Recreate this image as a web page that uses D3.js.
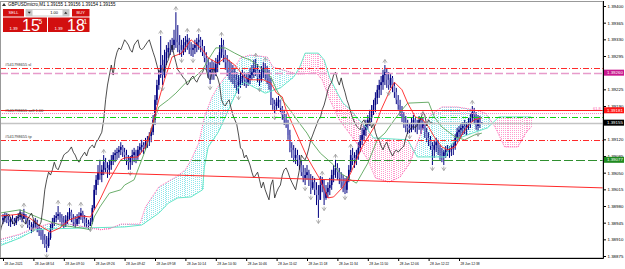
<!DOCTYPE html>
<html>
<head>
<meta charset="utf-8">
<script src="https://cdn.jsdelivr.net/npm/d3@7"></script>
<style>
  body { margin: 0; background: #fff; }
  svg { display: block; }
  text { font-family: "Liberation Sans", Arial, sans-serif; }
</style>
</head>
<body>
<div id="chart"></div>
<script>
// ---- data (M1 bars, bar 0 = 28 Jun 2021 08:38) ----
const startTime = new Date(2021, 5, 28, 8, 38);
const firstOpen = 1.38950;

const highs = [
  1.38963, 1.38967, 1.38965, 1.38959, 1.38957, 1.38961, 1.38955, 1.38959, 1.38965, 1.38972,
  1.38967, 1.38974, 1.38963, 1.38955, 1.38951, 1.38946, 1.38951, 1.38955, 1.38951, 1.38940,
  1.38934, 1.38930, 1.38921, 1.38917, 1.38925, 1.38942, 1.38955, 1.38961, 1.38967, 1.38980,
  1.38967, 1.38963, 1.38959, 1.38961, 1.38967, 1.38976, 1.38972, 1.38963, 1.38959, 1.38963,
  1.38967, 1.38976, 1.38970, 1.38961, 1.38955, 1.38951, 1.38955, 1.38982, 1.39024, 1.39045,
  1.39066, 1.39077, 1.39066, 1.39087, 1.39081, 1.39072, 1.39077, 1.39087, 1.39093, 1.39098,
  1.39102, 1.39106, 1.39114, 1.39108, 1.39102, 1.39098, 1.39087, 1.39085, 1.39098, 1.39102,
  1.39098, 1.39106, 1.39112, 1.39119, 1.39114, 1.39123, 1.39127, 1.39135, 1.39144, 1.39171,
  1.39213, 1.39245, 1.39266, 1.39337, 1.39297, 1.39308, 1.39318, 1.39324, 1.39329, 1.39333,
  1.39350, 1.39387, 1.39360, 1.39339, 1.39329, 1.39333, 1.39337, 1.39341, 1.39333, 1.39324,
  1.39320, 1.39329, 1.39333, 1.39341, 1.39335, 1.39329, 1.39316, 1.39303, 1.39291, 1.39282,
  1.39287, 1.39282, 1.39291, 1.39297, 1.39318, 1.39333, 1.39329, 1.39308, 1.39297, 1.39287,
  1.39282, 1.39276, 1.39270, 1.39261, 1.39255, 1.39261, 1.39266, 1.39261, 1.39257, 1.39261,
  1.39270, 1.39276, 1.39287, 1.39289, 1.39278, 1.39266, 1.39274, 1.39282, 1.39280, 1.39274,
  1.39266, 1.39249, 1.39207, 1.39203, 1.39207, 1.39211, 1.39203, 1.39190, 1.39182, 1.39173,
  1.39161, 1.39140, 1.39114, 1.39108, 1.39102, 1.39098, 1.39087, 1.39077, 1.39066, 1.39060,
  1.39066, 1.39056, 1.39047, 1.39043, 1.39039, 1.39030, 1.39024, 1.39043, 1.39041, 1.39035,
  1.39024, 1.39030, 1.39039, 1.39056, 1.39066, 1.39077, 1.39070, 1.39060, 1.39051, 1.39045,
  1.39039, 1.39043, 1.39066, 1.39098, 1.39102, 1.39093, 1.39098, 1.39114, 1.39129, 1.39144,
  1.39150, 1.39161, 1.39171, 1.39182, 1.39192, 1.39203, 1.39219, 1.39234, 1.39245, 1.39253,
  1.39266, 1.39276, 1.39270, 1.39261, 1.39257, 1.39253, 1.39240, 1.39228, 1.39213, 1.39203,
  1.39190, 1.39177, 1.39169, 1.39161, 1.39152, 1.39165, 1.39171, 1.39165, 1.39161, 1.39169,
  1.39165, 1.39167, 1.39156, 1.39144, 1.39135, 1.39127, 1.39114, 1.39119, 1.39123, 1.39119,
  1.39108, 1.39102, 1.39098, 1.39106, 1.39108, 1.39106, 1.39110, 1.39114, 1.39131, 1.39144,
  1.39148, 1.39152, 1.39156, 1.39161, 1.39156, 1.39165, 1.39173, 1.39190, 1.39186, 1.39177,
  1.39171, 1.39169, 1.39156
];
const lows = [
  1.38942, 1.38946, 1.38944, 1.38938, 1.38936, 1.38942, 1.38938, 1.38940, 1.38948, 1.38951,
  1.38946, 1.38953, 1.38942, 1.38934, 1.38930, 1.38923, 1.38938, 1.38934, 1.38925, 1.38917,
  1.38909, 1.38900, 1.38892, 1.38883, 1.38892, 1.38909, 1.38930, 1.38938, 1.38946, 1.38951,
  1.38946, 1.38938, 1.38934, 1.38936, 1.38942, 1.38951, 1.38946, 1.38938, 1.38934, 1.38938,
  1.38942, 1.38951, 1.38944, 1.38936, 1.38934, 1.38930, 1.38938, 1.38942, 1.38972, 1.39003,
  1.39024, 1.39035, 1.39030, 1.39045, 1.39051, 1.39039, 1.39045, 1.39056, 1.39066, 1.39072,
  1.39077, 1.39081, 1.39087, 1.39083, 1.39077, 1.39066, 1.39056, 1.39056, 1.39066, 1.39072,
  1.39070, 1.39077, 1.39087, 1.39093, 1.39089, 1.39098, 1.39102, 1.39106, 1.39114, 1.39129,
  1.39150, 1.39192, 1.39224, 1.39249, 1.39234, 1.39249, 1.39276, 1.39291, 1.39297, 1.39303,
  1.39308, 1.39312, 1.39303, 1.39297, 1.39293, 1.39297, 1.39303, 1.39308, 1.39299, 1.39295,
  1.39293, 1.39299, 1.39303, 1.39308, 1.39303, 1.39295, 1.39282, 1.39266, 1.39249, 1.39236,
  1.39245, 1.39245, 1.39253, 1.39261, 1.39276, 1.39291, 1.39282, 1.39266, 1.39253, 1.39245,
  1.39240, 1.39236, 1.39228, 1.39217, 1.39215, 1.39228, 1.39234, 1.39232, 1.39228, 1.39232,
  1.39236, 1.39245, 1.39249, 1.39253, 1.39240, 1.39232, 1.39240, 1.39249, 1.39245, 1.39236,
  1.39224, 1.39192, 1.39182, 1.39173, 1.39182, 1.39186, 1.39177, 1.39161, 1.39150, 1.39144,
  1.39119, 1.39093, 1.39081, 1.39072, 1.39068, 1.39064, 1.39056, 1.39043, 1.39030, 1.39024,
  1.39035, 1.39022, 1.39005, 1.39014, 1.39003, 1.38982, 1.38955, 1.38993, 1.39009, 1.38982,
  1.38993, 1.38997, 1.39003, 1.39014, 1.39030, 1.39039, 1.39035, 1.39026, 1.39018, 1.39009,
  1.39005, 1.39007, 1.39030, 1.39051, 1.39066, 1.39060, 1.39066, 1.39077, 1.39093, 1.39108,
  1.39119, 1.39127, 1.39140, 1.39148, 1.39156, 1.39171, 1.39177, 1.39194, 1.39207, 1.39213,
  1.39224, 1.39234, 1.39228, 1.39224, 1.39228, 1.39219, 1.39207, 1.39194, 1.39182, 1.39169,
  1.39156, 1.39144, 1.39135, 1.39131, 1.39133, 1.39135, 1.39140, 1.39135, 1.39131, 1.39140,
  1.39131, 1.39140, 1.39123, 1.39114, 1.39106, 1.39098, 1.39066, 1.39081, 1.39093, 1.39087,
  1.39077, 1.39072, 1.39066, 1.39081, 1.39085, 1.39081, 1.39085, 1.39087, 1.39098, 1.39114,
  1.39119, 1.39123, 1.39129, 1.39131, 1.39129, 1.39140, 1.39144, 1.39156, 1.39152, 1.39140,
  1.39138, 1.39144, 1.39154
];
const closes = [
  1.38955, 1.38959, 1.38951, 1.38946, 1.38953, 1.38948, 1.38944, 1.38955, 1.38957, 1.38961,
  1.38953, 1.38963, 1.38951, 1.38940, 1.38936, 1.38932, 1.38942, 1.38946, 1.38934, 1.38925,
  1.38917, 1.38909, 1.38900, 1.38896, 1.38913, 1.38934, 1.38946, 1.38955, 1.38959, 1.38963,
  1.38955, 1.38946, 1.38942, 1.38951, 1.38959, 1.38967, 1.38955, 1.38946, 1.38942, 1.38953,
  1.38959, 1.38965, 1.38953, 1.38944, 1.38942, 1.38938, 1.38946, 1.38976, 1.39014, 1.39035,
  1.39051, 1.39045, 1.39056, 1.39072, 1.39060, 1.39056, 1.39066, 1.39077, 1.39087, 1.39091,
  1.39093, 1.39098, 1.39104, 1.39093, 1.39087, 1.39077, 1.39072, 1.39081, 1.39087, 1.39093,
  1.39085, 1.39098, 1.39104, 1.39108, 1.39102, 1.39114, 1.39119, 1.39127, 1.39135, 1.39161,
  1.39203, 1.39234, 1.39255, 1.39276, 1.39255, 1.39287, 1.39303, 1.39312, 1.39308, 1.39318,
  1.39329, 1.39324, 1.39318, 1.39308, 1.39303, 1.39318, 1.39324, 1.39329, 1.39312, 1.39308,
  1.39312, 1.39318, 1.39324, 1.39329, 1.39316, 1.39303, 1.39291, 1.39276, 1.39261, 1.39266,
  1.39270, 1.39261, 1.39278, 1.39287, 1.39303, 1.39318, 1.39297, 1.39282, 1.39266, 1.39261,
  1.39255, 1.39249, 1.39245, 1.39234, 1.39240, 1.39249, 1.39253, 1.39245, 1.39240, 1.39249,
  1.39255, 1.39261, 1.39270, 1.39266, 1.39249, 1.39245, 1.39261, 1.39270, 1.39257, 1.39249,
  1.39234, 1.39203, 1.39194, 1.39190, 1.39198, 1.39203, 1.39186, 1.39171, 1.39161, 1.39152,
  1.39129, 1.39102, 1.39098, 1.39081, 1.39087, 1.39077, 1.39066, 1.39051, 1.39039, 1.39045,
  1.39051, 1.39035, 1.39018, 1.39030, 1.39014, 1.39003, 1.38993, 1.39024, 1.39035, 1.38997,
  1.39009, 1.39018, 1.39024, 1.39045, 1.39056, 1.39060, 1.39051, 1.39039, 1.39030, 1.39022,
  1.39014, 1.39035, 1.39056, 1.39087, 1.39081, 1.39077, 1.39087, 1.39102, 1.39119, 1.39129,
  1.39140, 1.39150, 1.39161, 1.39165, 1.39182, 1.39192, 1.39207, 1.39224, 1.39234, 1.39240,
  1.39255, 1.39261, 1.39245, 1.39234, 1.39249, 1.39232, 1.39219, 1.39203, 1.39192, 1.39177,
  1.39165, 1.39156, 1.39148, 1.39144, 1.39140, 1.39156, 1.39161, 1.39150, 1.39152, 1.39161,
  1.39144, 1.39154, 1.39135, 1.39123, 1.39119, 1.39106, 1.39098, 1.39108, 1.39114, 1.39102,
  1.39093, 1.39085, 1.39093, 1.39098, 1.39093, 1.39098, 1.39102, 1.39106, 1.39123, 1.39135,
  1.39140, 1.39144, 1.39148, 1.39144, 1.39150, 1.39156, 1.39165, 1.39177, 1.39171, 1.39148,
  1.39161, 1.39155, 1.39155
];

// Ichimoku lines, [bar, price]
const tenkan = [
  [-2, 1.38959], [4, 1.38961], [9, 1.38963], [14, 1.38955], [19, 1.38940], [25, 1.38925],
  [30, 1.38934], [35, 1.38951], [41, 1.38959], [46, 1.38957], [51, 1.38993], [56, 1.39035],
  [62, 1.39077], [64, 1.39081], [71, 1.39083], [75, 1.39104], [78, 1.39140], [82, 1.39203],
  [85, 1.39245], [89, 1.39293], [94, 1.39301], [99, 1.39329], [105, 1.39308], [108, 1.39291],
  [113, 1.39280], [117, 1.39291], [122, 1.39276], [127, 1.39251], [130, 1.39245], [137, 1.39245],
  [141, 1.39238], [144, 1.39217], [147, 1.39209], [149, 1.39182], [153, 1.39146], [156, 1.39119],
  [160, 1.39083], [163, 1.39062], [167, 1.39035], [171, 1.38997], [174, 1.38999], [179, 1.39020],
  [183, 1.39049], [186, 1.39077], [189, 1.39104], [196, 1.39150], [199, 1.39182], [203, 1.39217],
  [206, 1.39240], [210, 1.39224], [213, 1.39196], [217, 1.39167], [221, 1.39161], [224, 1.39146],
  [227, 1.39125], [231, 1.39104], [234, 1.39098], [238, 1.39104], [242, 1.39133], [245, 1.39150],
  [248, 1.39161], [252, 1.39165]
];
const kijun = [
  [-2, 1.38965], [9, 1.38972], [19, 1.38955], [30, 1.38940], [41, 1.38934], [46, 1.38930],
  [48, 1.38957], [51, 1.38978], [56, 1.39007], [62, 1.39014], [64, 1.39024], [69, 1.39035],
  [75, 1.39098], [78, 1.39140], [82, 1.39188], [87, 1.39203], [91, 1.39217], [96, 1.39238],
  [101, 1.39251], [105, 1.39266], [108, 1.39287], [112, 1.39312], [117, 1.39312], [122, 1.39301],
  [127, 1.39291], [130, 1.39287], [137, 1.39266], [141, 1.39251], [144, 1.39224], [147, 1.39203],
  [151, 1.39182], [156, 1.39154], [160, 1.39133], [163, 1.39112], [167, 1.39091], [171, 1.39077],
  [174, 1.39066], [177, 1.39051], [183, 1.39035], [186, 1.39028], [189, 1.39049], [192, 1.39070],
  [197, 1.39119], [201, 1.39133], [206, 1.39161], [210, 1.39182], [213, 1.39196], [224, 1.39198],
  [227, 1.39167], [231, 1.39146], [238, 1.39125], [243, 1.39119], [248, 1.39129], [252, 1.39133]
];
const spanA = [
  [-2, 1.38909], [9, 1.38921], [14, 1.38930], [25, 1.38944], [35, 1.38942], [46, 1.38934],
  [51, 1.38930], [56, 1.38932], [62, 1.38942], [72, 1.38942], [75, 1.38978], [82, 1.39020],
  [91, 1.39041], [96, 1.39056], [99, 1.39077], [103, 1.39112], [106, 1.39167], [110, 1.39209],
  [113, 1.39230], [117, 1.39251], [122, 1.39272], [125, 1.39291], [130, 1.39297], [139, 1.39293],
  [142, 1.39272], [147, 1.39266], [155, 1.39257], [165, 1.39259], [168, 1.39245], [172, 1.39203],
  [177, 1.39161], [183, 1.39129], [188, 1.39102], [192, 1.39077], [196, 1.39039], [203, 1.39030],
  [209, 1.39041], [214, 1.39070], [218, 1.39112], [221, 1.39144], [225, 1.39171], [231, 1.39188],
  [239, 1.39188], [248, 1.39182], [254, 1.39175], [259, 1.39146], [264, 1.39104], [271, 1.39104],
  [275, 1.39133], [278, 1.39146]
];
const spanB = [
  [-2, 1.38896], [9, 1.38913], [17, 1.38930], [25, 1.38932], [64, 1.38936], [73, 1.38940],
  [82, 1.38965], [87, 1.38986], [92, 1.38997], [99, 1.38999], [105, 1.39014], [106, 1.39062],
  [108, 1.39104], [113, 1.39133], [117, 1.39167], [121, 1.39203], [124, 1.39230], [127, 1.39240],
  [130, 1.39234], [138, 1.39217], [146, 1.39228], [153, 1.39251], [156, 1.39270], [159, 1.39301],
  [166, 1.39301], [169, 1.39287], [172, 1.39249], [176, 1.39217], [179, 1.39196], [183, 1.39182],
  [186, 1.39167], [191, 1.39146], [195, 1.39123], [213, 1.39119], [218, 1.39083], [233, 1.39083],
  [235, 1.39104], [239, 1.39121], [247, 1.39133], [255, 1.39144], [261, 1.39167], [278, 1.39167]
];
const chikouShift = 26;

// Bill Williams fractals (bar numbers)
const fractalUp = [11, 29, 35, 41, 53, 83, 91, 97, 103, 115, 133, 138, 168, 175, 183, 201, 221, 247];
const fractalDown = [10, 16, 23, 46, 67, 84, 94, 100, 109, 124, 135, 143, 159, 162, 166, 169, 180, 203, 214, 226, 232, 250];

// horizontal levels
const levelNames = ["sl", "alert", "ask", "fibo", "signal", "bid", "tp", "support"];
const levelPrices = [1.39270, 1.39260, 1.39181, 1.39175, 1.39167, 1.39155, 1.39119, 1.39077];
const orderTicket = "#541798655";
const orderLabels = [["sl", "sl"], ["fibo", "sell 1.00"], ["tp", "tp"]];
const boxedLevels = ["alert", "ask", "bid", "support"];
const fiboText = "61.8";

// trend line
const trendBars = [-2, 316];
const trendPrices = [1.39056, 1.39018];

// axes
const yTicks = [1.39400, 1.39365, 1.39330, 1.39295, 1.39260, 1.39225, 1.39190, 1.39155,
  1.39120, 1.39085, 1.39050, 1.39015, 1.38980, 1.38945, 1.38910, 1.38875];
const xTickBars = [0, 16, 32, 48, 64, 80, 96, 112, 128, 144, 160, 176, 192, 208, 224, 240];

// header / one click panel
const symbolName = "GBPUSDmicro,M1";
const lastOHLC = [1.39155, 1.39156, 1.39154, 1.39155];
const bidPrice = 1.39155, askPrice = 1.39181, lotSize = "1.00";

// ---------------------------------------------------------------
const W = 625, H = 269;
const plotRight = 603, plotBottom = 258;

const svg = d3.select("#chart").append("svg")
  .attr("width", W).attr("height", H);

const barTime = i => new Date(startTime.getTime() + i * 60000);
const x = d3.scaleTime()
  .domain([barTime(0), barTime(252)])
  .range([3, 481.8]);
const bx = i => x(barTime(i));
const y = d3.scaleLinear()
  .domain([1.38875, 1.39400])
  .range([256, 6]);

const defs = svg.append("defs");
defs.append("clipPath").attr("id", "plot")
  .append("rect").attr("x", 0).attr("y", 1).attr("width", plotRight).attr("height", plotBottom - 1);

const g = svg.append("g").attr("clip-path", "url(#plot)");

// ---- cloud: one dotted vertical line per bar between span A and span B ----
function interp(series, b) {
  if (b <= series[0][0]) return series[0][1];
  for (let k = 1; k < series.length; k++) {
    const [b1, p1] = series[k];
    if (b <= b1) {
      const [b0, p0] = series[k - 1];
      return p0 + (p1 - p0) * (b - b0) / (b1 - b0);
    }
  }
  return series[series.length - 1][1];
}
const cloud = d3.range(-2, 279).map(b => ({b, a: interp(spanA, b), s: interp(spanB, b)}));

g.selectAll(".kumo").data(cloud).join("line")
  .attr("x1", d => Math.round(bx(d.b)) + 0.5).attr("x2", d => Math.round(bx(d.b)) + 0.5)
  .attr("y1", d => Math.round(y(d.a))).attr("y2", d => Math.round(y(d.s)))
  .attr("stroke", d => d.a >= d.s ? "#8fe6ec" : "#ff9ccf")
  .attr("stroke-width", 1)
  .attr("stroke-dasharray", "1,1");

// ---- candles ----
const bars = closes.map((c, i) => ({
  i, c, h: highs[i], l: lows[i], o: i ? closes[i - 1] : firstOpen
}));
g.selectAll(".wick").data(bars).join("line")
  .attr("x1", d => bx(d.i)).attr("x2", d => bx(d.i))
  .attr("y1", d => y(Math.max(d.h, d.o, d.c))).attr("y2", d => y(Math.min(d.l, d.o, d.c)))
  .attr("stroke", "#000080").attr("stroke-width", 1);
g.selectAll(".body").data(bars).join("rect")
  .attr("x", d => bx(d.i) - 0.8).attr("width", 1.6)
  .attr("y", d => y(Math.max(d.o, d.c)))
  .attr("height", d => Math.max(0.6, Math.abs(y(d.o) - y(d.c))))
  .attr("fill", d => d.c >= d.o ? "#000080" : "#6e6ec4");

// ---- indicator lines ----
const line = d3.line().x(d => bx(d[0])).y(d => y(d[1]));
g.append("path").datum(spanB).attr("d", line)
  .attr("fill", "none").attr("stroke", "#66e6c8").attr("stroke-width", 1);
g.append("path").datum(spanA).attr("d", line)
  .attr("fill", "none").attr("stroke", "#ff5fb0").attr("stroke-width", 1).attr("stroke-dasharray", "1,1");
g.append("path").datum(kijun).attr("d", line)
  .attr("fill", "none").attr("stroke", "#5aa55a").attr("stroke-width", 0.9);
g.append("path").datum(tenkan).attr("d", line)
  .attr("fill", "none").attr("stroke", "#f22").attr("stroke-width", 0.9);
const chikou = closes.map((c, i) => [i - chikouShift, c]);
g.append("path").datum(chikou).attr("d", line)
  .attr("fill", "none").attr("stroke", "#222").attr("stroke-width", 0.8);

// ---- fractals ----
const arrowUp = "M-2,1.5L0,-1.5L2,1.5M0,-1.5V2.5";
const arrowDown = "M-2,-1.5L0,1.5L2,-1.5M0,1.5V-2.5";
g.selectAll(".fu").data(fractalUp).join("path")
  .attr("transform", i => `translate(${bx(i)},${y(highs[i]) - 4})`)
  .attr("d", arrowUp).attr("fill", "none").attr("stroke", "#999").attr("stroke-width", 0.8);
g.selectAll(".fd").data(fractalDown).join("path")
  .attr("transform", i => `translate(${bx(i)},${y(lows[i]) + 4})`)
  .attr("d", arrowDown).attr("fill", "none").attr("stroke", "#999").attr("stroke-width", 0.8);

// ---- horizontal levels and trend line ----
const levelStyle = {
  sl:      {stroke: "#ff2a2a", dash: "6,2,1,2", w: 1},
  alert:   {stroke: "#e79bcb", dash: "8,3", w: 1.5},
  ask:     {stroke: "#ff1a1a", dash: null, w: 1},
  fibo:    {stroke: "#ff7fc0", dash: "1,1", w: 1},
  signal:  {stroke: "#11d011", dash: "6,2,1,2", w: 1},
  bid:     {stroke: "#c4c4c4", dash: null, w: 1.5},
  tp:      {stroke: "#ff2a2a", dash: "6,2,1,2", w: 1},
  support: {stroke: "#2f8f2f", dash: "9,3", w: 1}
};
const levels = levelNames.map((n, k) => ({n, p: levelPrices[k]}));
g.append("line")
  .attr("x1", bx(trendBars[0])).attr("x2", bx(trendBars[1]))
  .attr("y1", y(trendPrices[0])).attr("y2", y(trendPrices[1]))
  .attr("stroke", "#ff2a2a").attr("stroke-width", 1);
g.selectAll(".lvl").data(levels).join("line")
  .attr("x1", 0).attr("x2", plotRight)
  .attr("y1", d => Math.round(y(d.p)) + 0.5).attr("y2", d => Math.round(y(d.p)) + 0.5)
  .attr("stroke", d => levelStyle[d.n].stroke)
  .attr("stroke-width", d => levelStyle[d.n].w)
  .attr("stroke-dasharray", d => levelStyle[d.n].dash);

const priceOf = n => levelPrices[levelNames.indexOf(n)];
svg.selectAll(".olab").data(orderLabels).join("text")
  .attr("x", 5).attr("y", d => y(priceOf(d[0])) - 1.5)
  .attr("font-size", 4).attr("fill", "#333")
  .text(d => `${orderTicket} ${d[1]}`);
svg.append("text").attr("x", 593).attr("y", y(priceOf("fibo")) - 3)
  .attr("font-size", 4).attr("fill", "#ff5fb0").text(fiboText);

// ---- axes ----
svg.append("rect").attr("x", 0.5).attr("y", 1.5)
  .attr("width", plotRight - 0.5).attr("height", plotBottom - 1.5)
  .attr("fill", "none").attr("stroke", "#999").attr("stroke-width", 1);
svg.append("line").attr("x1", plotRight + 0.5).attr("x2", plotRight + 0.5)
  .attr("y1", 1).attr("y2", plotBottom + 0.5).attr("stroke", "#000");
svg.append("line").attr("x1", 0).attr("x2", plotRight + 0.5)
  .attr("y1", plotBottom + 0.5).attr("y2", plotBottom + 0.5).attr("stroke", "#000");

const yAxis = svg.append("g")
  .attr("transform", `translate(${plotRight + 0.5},0)`)
  .call(d3.axisRight(y).tickValues(yTicks).tickSize(2.5).tickPadding(1.5).tickFormat(d3.format(".5f")));
yAxis.select(".domain").remove();
yAxis.selectAll("text").attr("font-size", 4.4).attr("font-family", "Liberation Sans, Arial, sans-serif").attr("fill", "#000");
yAxis.selectAll("line").attr("stroke", "#000");

const fmtTime = d3.timeFormat("%d %b %H:%M");
const xAxis = svg.append("g")
  .attr("transform", `translate(0,${plotBottom + 0.5})`)
  .call(d3.axisBottom(x).tickValues(xTickBars.map(barTime)).tickSize(2.5)
    .tickFormat((d, k) => k === 0 ? d3.timeFormat("%d %b %Y")(d) : fmtTime(d)));
xAxis.select(".domain").remove();
xAxis.selectAll("line").attr("stroke", "#000");
xAxis.selectAll("text").attr("font-size", 3.3).attr("font-family", "Liberation Sans, Arial, sans-serif")
  .attr("fill", "#000").attr("text-anchor", "start").attr("dx", 1).attr("y", 4);

// price boxes on the axis
const boxColor = {alert: "#c8188e", ask: "#ff1414", bid: "#000", support: "#1f8a1f"};
const boxes = svg.selectAll(".pbox").data(boxedLevels).join("g")
  .attr("transform", n => `translate(${plotRight + 1},${y(priceOf(n))})`);
boxes.append("rect").attr("x", 0).attr("y", -3).attr("width", 20).attr("height", 6)
  .attr("fill", n => boxColor[n]);
boxes.append("text").attr("x", 3).attr("y", 1.6).attr("font-size", 4.4).attr("fill", "#fff")
  .text(n => d3.format(".5f")(priceOf(n)));

// ---- header ----
svg.append("path").attr("d", "M2,6 L4,3 L6,6 Z").attr("fill", "#333");
svg.append("text").attr("x", 8).attr("y", 6.3).attr("font-size", 4.5).attr("fill", "#000")
  .text(`${symbolName}  ${lastOHLC.map(d3.format(".5f")).join(" ")}`);

// ---- one click trading panel ----
const panel = svg.append("g");
const red = "#d20f0f";
function priceParts(p) {
  const s = d3.format(".5f")(p);
  return [s.slice(0, 4), s.slice(4, 6), s.slice(6)];
}
panel.append("rect").attr("x", 3).attr("y", 9).attr("width", 21).attr("height", 7.5).attr("fill", red);
panel.append("text").attr("x", 13.5).attr("y", 14.3).attr("text-anchor", "middle")
  .attr("font-size", 4).attr("fill", "#fff").text("SELL");
panel.append("rect").attr("x", 72).attr("y", 9).attr("width", 17.5).attr("height", 7.5).attr("fill", red);
panel.append("text").attr("x", 80.7).attr("y", 14.3).attr("text-anchor", "middle")
  .attr("font-size", 4).attr("fill", "#fff").text("BUY");
panel.append("rect").attr("x", 26).attr("y", 9.5).attr("width", 43).attr("height", 6.5)
  .attr("fill", "#fff").attr("stroke", "#999").attr("stroke-width", 0.5);
panel.append("rect").attr("x", 26).attr("y", 9.5).attr("width", 6.5).attr("height", 6.5).attr("fill", "#c8c8c8");
panel.append("rect").attr("x", 62.5).attr("y", 9.5).attr("width", 6.5).attr("height", 6.5).attr("fill", "#c8c8c8");
panel.append("path").attr("d", "M27.7,11.8 L30.8,11.8 L29.25,13.8 Z").attr("fill", "#222");
panel.append("path").attr("d", "M64.2,13.8 L67.3,13.8 L65.75,11.8 Z").attr("fill", "#222");
panel.append("text").attr("x", 58).attr("y", 14.3).attr("text-anchor", "end")
  .attr("font-size", 4).attr("fill", "#000").text(lotSize);

[[3, 44, bidPrice], [48, 41.5, askPrice]].forEach(([x0, w, p]) => {
  const [a, b, c] = priceParts(p);
  panel.append("rect").attr("x", x0).attr("y", 17.5).attr("width", w).attr("height", 14.5).attr("fill", red);
  panel.append("text").attr("x", x0 + 6.5).attr("y", 29.5).attr("font-size", 4.2).attr("fill", "#fff").text(a);
  panel.append("text").attr("x", x0 + 19).attr("y", 30.8).attr("font-size", 16).attr("fill", "#fff").text(b);
  panel.append("text").attr("x", x0 + 35.5).attr("y", 23.5).attr("font-size", 6.5).attr("fill", "#fff").text(c);
});
</script>
</body>
</html>
